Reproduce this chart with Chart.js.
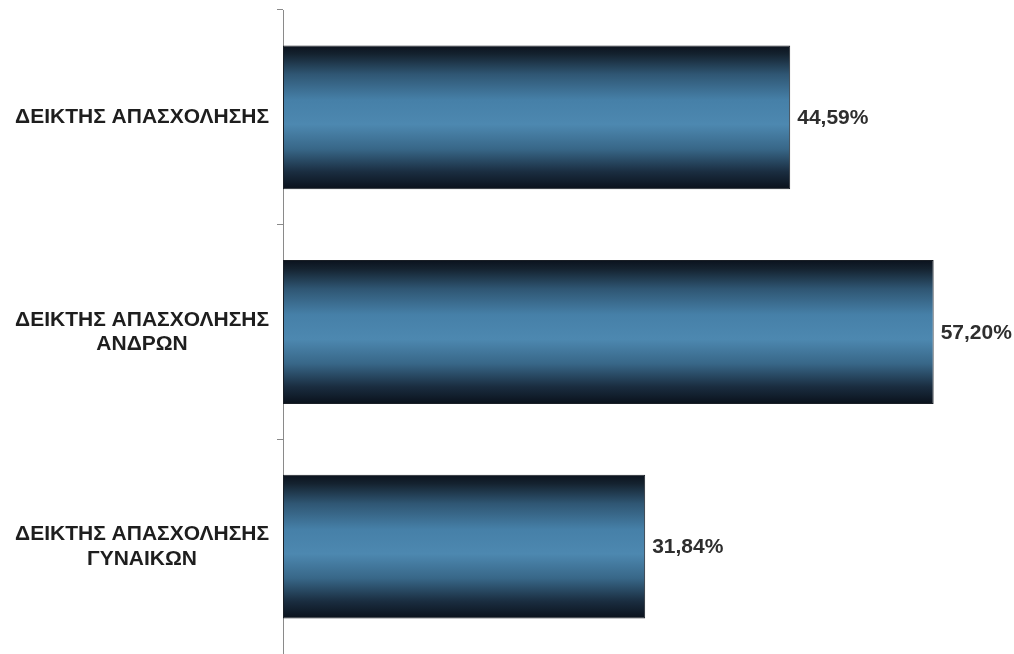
<!DOCTYPE html>
<html lang="el">
<head>
<meta charset="utf-8">
<title>Δείκτης απασχόλησης</title>
<script src="https://cdn.jsdelivr.net/npm/chart.js@4.4.1/dist/chart.umd.min.js"></script>
<style>
    html, body { margin: 0; padding: 0; background: #ffffff; }
    #wrap { width: 1014px; height: 654px; position: relative; }
</style>
</head>
<body>
<div id="wrap"><canvas id="employmentChart"></canvas></div>
<script>
// Les catégories et les valeurs.
const categories = [
    ['ΔΕΙΚΤΗΣ ΑΠΑΣΧΟΛΗΣΗΣ'],
    ['ΔΕΙΚΤΗΣ ΑΠΑΣΧΟΛΗΣΗΣ', 'ΑΝΔΡΩΝ'],
    ['ΔΕΙΚΤΗΣ ΑΠΑΣΧΟΛΗΣΗΣ', 'ΓΥΝΑΙΚΩΝ']
];
const rates = [44.59, 57.20, 31.84];
const valueLabels = ['44,59%', '57,20%', '31,84%'];
const axisMax = 64;

const barPercentage = 0.67;

/**
 * Je crée le dégradé vertical (sombre en haut et en bas, bleu au milieu) pour chaque barre.
 */
const barGradient = (context) => {
    const chart = context.chart;
    const yScale = chart.scales.y;
    if (!chart.chartArea || !yScale || context.dataIndex === undefined) return '#3d6e93';
    const center = yScale.getPixelForValue(context.dataIndex);
    const band = Math.abs(yScale.getPixelForValue(1) - yScale.getPixelForValue(0));
    if (!Number.isFinite(center) || !Number.isFinite(band)) return '#3d6e93';
    const half = band * barPercentage / 2;
    const g = chart.ctx.createLinearGradient(0, center - half, 0, center + half);
    g.addColorStop(0, '#0b121d');
    g.addColorStop(0.06, '#14222f');
    g.addColorStop(0.2, '#2f5673');
    g.addColorStop(0.38, '#4680a8');
    g.addColorStop(0.55, '#4d88b0');
    g.addColorStop(0.72, '#386788');
    g.addColorStop(0.88, '#1a2d40');
    g.addColorStop(1, '#0a111b');
    return g;
};

// J'écris les pourcentages à droite des barres.
const valueLabelPlugin = {
    id: 'valueLabels',
    afterDatasetsDraw(chart) {
        const ctx = chart.ctx;
        const meta = chart.getDatasetMeta(0);
        ctx.save();
        ctx.font = 'bold 21px "Liberation Sans", Arial, sans-serif';
        ctx.fillStyle = '#2e2e2e';
        ctx.textAlign = 'left';
        ctx.textBaseline = 'middle';
        meta.data.forEach((bar, i) => {
            ctx.fillText(valueLabels[i], bar.x + 7, bar.y + 1);
        });
        ctx.restore();
    }
};

const ctx = document.getElementById('employmentChart').getContext('2d');
new Chart(ctx, {
    type: 'bar',
    data: {
        labels: categories,
        datasets: [{
            data: rates,
            backgroundColor: barGradient,
            borderColor: '#1a1f26',
            borderWidth: 1,
            borderSkipped: false,
            barPercentage: barPercentage,
            categoryPercentage: 1
        }]
    },
    options: {
        indexAxis: 'y',
        responsive: true,
        maintainAspectRatio: false,
        animation: false,
        layout: { padding: { top: 10, right: 3, bottom: 0, left: 0 } },
        plugins: {
            legend: { display: false },
            tooltip: { enabled: false }
        },
        scales: {
            x: {
                display: false,
                min: 0,
                max: axisMax
            },
            y: {
                grid: {
                    drawOnChartArea: false,
                    drawTicks: true,
                    tickLength: 6,
                    color: '#8a8a8a',
                    offset: true
                },
                border: { display: true, color: '#8a8a8a', width: 1 },
                ticks: {
                    crossAlign: 'center',
                    padding: 8,
                    color: '#1e1e1e',
                    font: { family: '"Liberation Sans", Arial, sans-serif', size: 21, weight: 'bold', lineHeight: 1.15 }
                },
                afterFit(scale) {
                    // Je fixe la largeur de l'axe et j'enlève la marge réservée aux libellés.
                    scale.width = 283;
                    scale.paddingTop = 0;
                    scale.paddingBottom = 0;
                }
            }
        }
    },
    plugins: [valueLabelPlugin]
});
</script>
</body>
</html>
